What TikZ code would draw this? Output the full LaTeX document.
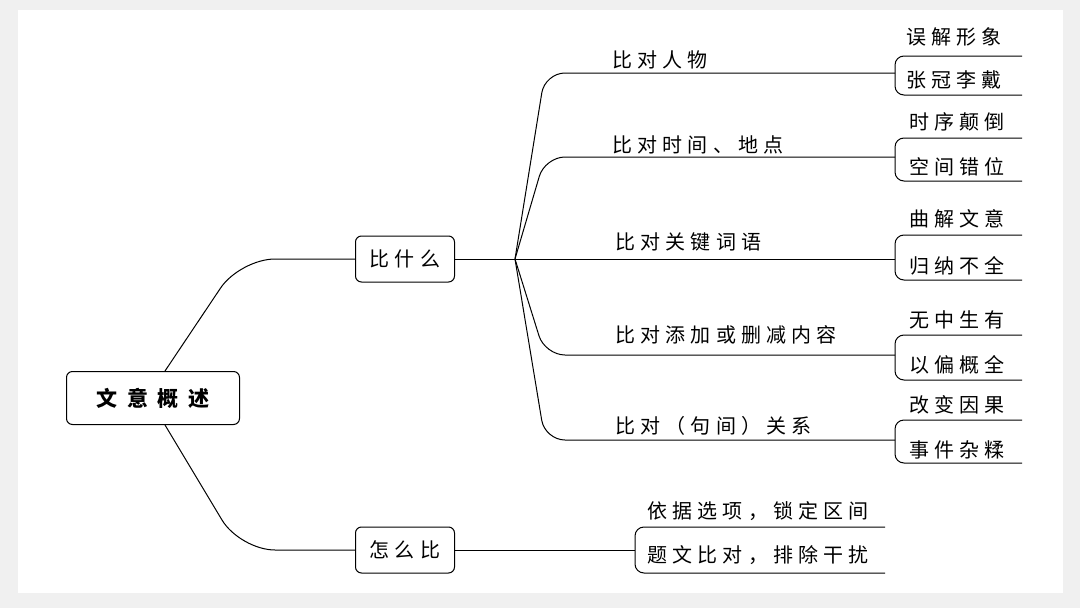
\documentclass[tikz,border=0pt]{standalone}
\usepackage{fontspec}
\newfontfamily\cjk[LetterSpace=26]{Noto Sans CJK SC}
\newfontfamily\cjkwide[LetterSpace=45]{Noto Sans CJK SC}
\usetikzlibrary{positioning}
\tikzset{
  box/.style={draw,rounded corners=6pt,line width=1pt,inner sep=0pt,font=\cjk\fontsize{20}{20}\selectfont},
  txt/.style={inner sep=0pt,anchor=west,font=\cjk\fontsize{20}{20}\selectfont},
  ln/.style={line width=1pt,rounded corners=14pt},
}
\begin{document}
\begin{tikzpicture}[x=1pt,y=-1pt]
\useasboundingbox (0,0) rectangle (1080,608);
\draw[fill=gray!12,gray!12](0,0) rectangle (1080,608);
\draw[fill=white,white](18,10) rectangle (1062,592);

\node[box,minimum width=173,minimum height=53,font=\cjkwide\fontsize{21}{21}\selectfont\bfseries] (root) at (153,398) {文意概述};
\node[box,minimum width=99,minimum height=46] (what) at (405,259) {比什么};
\node[box,minimum width=99,minimum height=46] (how) at (405,550) {怎么比};

\draw[ln,rounded corners=35pt] ([xshift=12]root.north) -- (240,259) -- (what.west);
\draw[ln,rounded corners=35pt] ([xshift=12]root.south) -- (240,550) -- (how.west);

\coordinate (hub) at (515,259);
\draw[ln] (what.east) -- (hub);

% branches
\coordinate (b1) at (895,73);
\coordinate (b2) at (895,157);
\coordinate (b3) at (895,259);
\coordinate (b4) at (895,355);
\coordinate (b5) at (895,440);
\draw[ln,rounded corners=20pt] (hub) -- (545,73) -- (b1);
\draw[ln,rounded corners=20pt] (hub) -- (545,157) -- (b2);
\draw[ln] (hub) -- (b3);
\draw[ln,rounded corners=20pt] (hub) -- (545,355) -- (b4);
\draw[ln,rounded corners=20pt] (hub) -- (545,440) -- (b5);

\node[txt] (t1) at (612,60) {比对人物};
\node[txt] (t2) at (612,145) {比对时间、地点};
\node[txt] (t3) at (615,242) {比对关键词语};
\node[txt] (t4) at (615,335) {比对添加或删减内容};
\node[txt] (t5) at (615,426) {比对（句间）关系};

% leaves
\draw[ln,rounded corners=9pt] (1022,56) -- (895,56) -- (895,95) -- (1022,95);
\draw[ln,rounded corners=9pt] (1022,138) -- (895,138) -- (895,181) -- (1022,181);
\draw[ln,rounded corners=9pt] (1022,235) -- (895,235) -- (895,280) -- (1022,280);
\draw[ln,rounded corners=9pt] (1022,335) -- (895,335) -- (895,380) -- (1022,380);
\draw[ln,rounded corners=9pt] (1022,420) -- (895,420) -- (895,463) -- (1022,463);

\node[txt] (l1a) at (906,37) {误解形象};
\node[txt] (l1b) at (906,80) {张冠李戴};
\node[txt] (l2a) at (909,122) {时序颠倒};
\node[txt] (l2b) at (909,167) {空间错位};
\node[txt] (l3a) at (909,219) {曲解文意};
\node[txt] (l3b) at (909,266) {归纳不全};
\node[txt] (l4a) at (909,320) {无中生有};
\node[txt] (l4b) at (909,365) {以偏概全};
\node[txt] (l5a) at (909,405) {改变因果};
\node[txt] (l5b) at (909,450) {事件杂糅};

% how
\coordinate (b6) at (635,550);
\draw[ln] (how.east) -- (b6);
\draw[ln,rounded corners=9pt] (885,527) -- (635,527) -- (635,573) -- (885,573);
\node[txt] (l6a) at (647,511) {依据选项，锁定区间};
\node[txt] (l6b) at (647,555) {题文比对，排除干扰};
\end{tikzpicture}
\end{document}
